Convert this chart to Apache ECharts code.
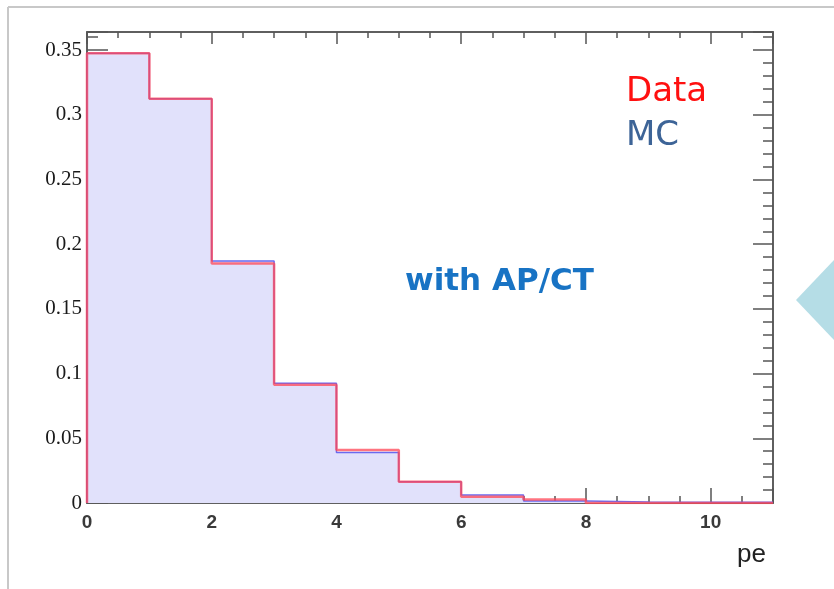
<!DOCTYPE html>
<html>
<head>
<meta charset="utf-8">
<script src="https://cdn.jsdelivr.net/npm/echarts@6/dist/echarts.min.js"></script>
<style>
html,body{margin:0;padding:0;background:#fff;}
#main{width:834px;height:589px;}
</style>
</head>
<body>
<div id="main"></div>
<script>
// bin edges in pe, one value per bin (normalised)
var binEdges = [0, 1, 2, 3, 4, 5, 6, 7, 8, 9, 10, 11];
var dataVals = [0.3475, 0.3125, 0.185, 0.0914, 0.041, 0.0165, 0.0049, 0.0028, 0, 0, 0];
var mcVals   = [0.3475, 0.3125, 0.187, 0.0925, 0.039, 0.0165, 0.0062, 0.0015, 0.0008, 0.0006, 0.0005];
var xTicks = [0, 2, 4, 6, 8, 10];
var yTicks = [0, 0.05, 0.1, 0.15, 0.2, 0.25, 0.3, 0.35];

var X_MAX = 11, Y_MAX = 0.364;

// histogram outline: start at (0,0), then (left edge, value), end at last edge
function steps(vals){
    var pts = [[binEdges[0], 0]];
    for (var i = 0; i < vals.length; i++) {
        pts.push([binEdges[i], vals[i]]);
    }
    pts.push([binEdges[binEdges.length - 1], vals[vals.length - 1]]);
    return pts;
}

var axisCol = '#555';

function xAx(pos, interval, tickLen, labels){
    return {
        type: 'value', position: pos, min: 0, max: X_MAX, interval: interval,
        axisLine: {show: true, onZero: false, lineStyle: {color: axisCol, width: 1.5}},
        axisTick: {show: true, inside: true, length: tickLen, lineStyle: {color: axisCol, width: 1.5}},
        axisLabel: labels ? {
            show: true, margin: 10, fontSize: 19, fontWeight: 'bold', color: '#3a3a3a', fontFamily: 'Liberation Sans',
            formatter: function(v){ return xTicks.indexOf(v) >= 0 ? String(v) : ''; }
        } : {show: false},
        splitLine: {show: false}
    };
}
function yAx(pos, interval, tickLen, labels){
    return {
        type: 'value', position: pos, min: 0, max: Y_MAX, interval: interval,
        axisLine: {show: true, onZero: false, lineStyle: {color: axisCol, width: 1.5}},
        axisTick: {show: true, inside: true, length: tickLen, lineStyle: {color: axisCol, width: 1.5}},
        axisLabel: labels ? {
            show: true, margin: 5, fontSize: 21, color: '#1a1a1a', fontFamily: 'Liberation Serif',
            formatter: function(v){
                for (var i = 0; i < yTicks.length; i++) {
                    if (Math.abs(yTicks[i] - v) < 1e-6) return String(yTicks[i]);
                }
                return '';
            }
        } : {show: false},
        splitLine: {show: false}
    };
}

var myChart = echarts.init(document.getElementById('main'));

var option = {
    animation: false,
    backgroundColor: '#fff',
    grid: {left: 87, right: 61, top: 32, bottom: 86},
    xAxis: [
        xAx('bottom', 2, 15, true),
        xAx('bottom', 0.5, 7, false),
        xAx('top', 2, 12, false),
        xAx('top', 0.5, 6, false)
    ],
    yAxis: [
        yAx('left', 0.05, 21, true),
        yAx('left', 0.01, 11, false),
        yAx('right', 0.05, 20, false),
        yAx('right', 0.01, 10, false)
    ],
    legend: {
        orient: 'vertical', left: 616, top: 70, itemGap: 10,
        itemWidth: 0, itemHeight: 0, icon: 'none',
        textStyle: {fontSize: 34, fontFamily: 'DejaVu Sans', padding: [0, 0, 0, 0]},
        data: [
            {name: 'Data', icon: 'none', textStyle: {color: '#ff1010'}},
            {name: 'MC', icon: 'none', textStyle: {color: '#3d6497'}}
        ]
    },
    graphic: [
        {type: 'line', silent: true, shape: {x1: 8, y1: 7, x2: 834, y2: 7}, style: {stroke: '#c8c8c8', lineWidth: 2}},
        {type: 'line', silent: true, shape: {x1: 8, y1: 7, x2: 8, y2: 589}, style: {stroke: '#c8c8c8', lineWidth: 2}},
        {type: 'polygon', silent: true, shape: {points: [[796, 300], [834, 260], [834, 340]]}, style: {fill: '#b5dde6'}},
        {type: 'text', left: 405, top: 266, style: {text: 'with AP/CT', fill: '#1873c4', font: 'bold 31px "DejaVu Sans"'}},
        {type: 'text', left: 737, top: 542, style: {text: 'pe', fill: '#222', font: '26px "Liberation Sans"'}}
    ],
    series: [
        {
            name: 'MC', type: 'line', step: 'end', xAxisIndex: 0, yAxisIndex: 0,
            showSymbol: false, symbol: 'none',
            lineStyle: {color: '#6a6af0', width: 1.5},
            itemStyle: {color: '#3d6497'},
            areaStyle: {color: '#e1e1fb', opacity: 1},
            data: steps(mcVals), z: 2
        },
        {
            name: 'Data', type: 'line', step: 'end', xAxisIndex: 0, yAxisIndex: 0,
            showSymbol: false, symbol: 'none',
            lineStyle: {color: 'rgba(255,70,85,0.75)', width: 2.5},
            itemStyle: {color: '#ff1010'},
            data: steps(dataVals), z: 3
        }
    ]
};

myChart.setOption(option);
</script>
</body>
</html>
